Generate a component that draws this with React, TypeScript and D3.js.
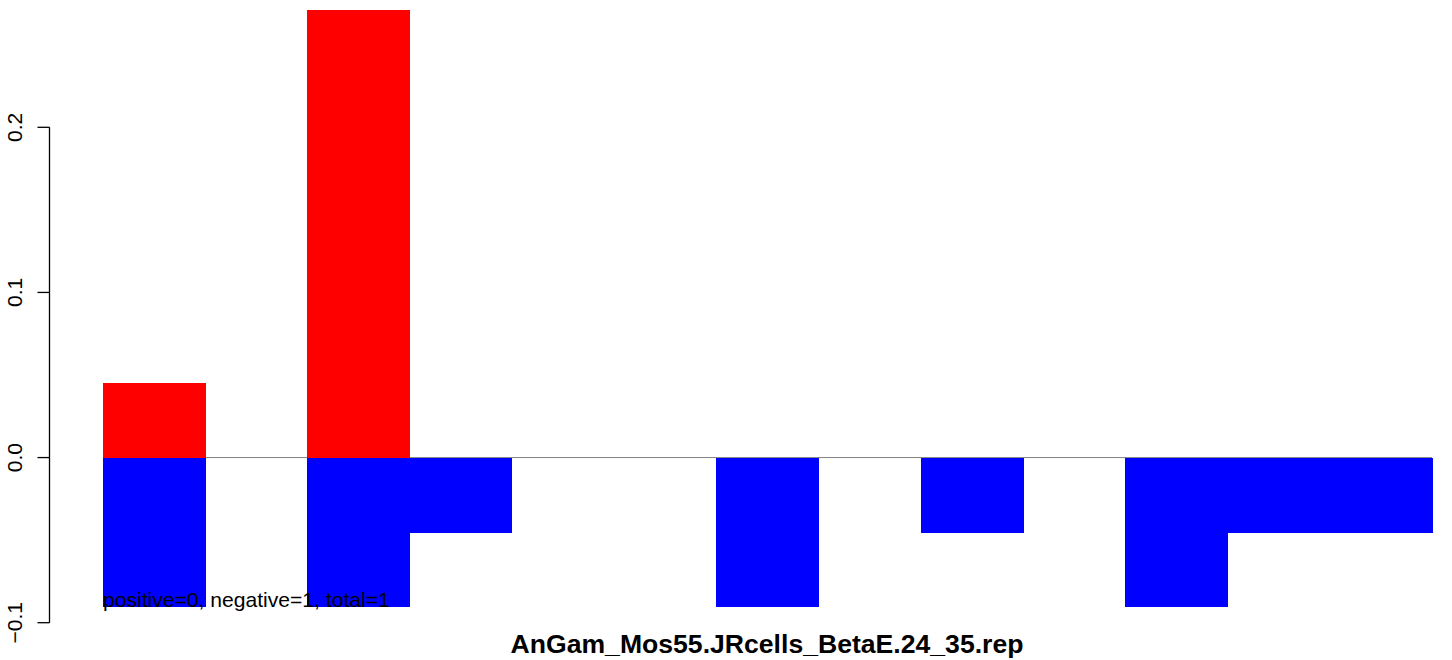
import React from "react";
import * as d3 from "d3";

const categories = ["1", "2", "3", "4", "5", "6", "7", "8", "9", "10", "11", "12", "13"];
const positiveValues = [0.045, 0, 0.271, 0, 0, 0, 0, 0, 0, 0, 0, 0, 0];
const negativeValues = [-0.0905, 0, -0.0905, -0.0455, 0, 0, -0.0905, 0, -0.0455, 0, -0.0905, -0.0455, -0.0455];
const yTicks = [-0.1, 0, 0.1, 0.2];
const title = "AnGam_Mos55.JRcells_BetaE.24_35.rep";
const note = "positive=0, negative=1, total=1";

const W = 1452;
const H = 660;
const FONT = "'Liberation Sans', Arial, Helvetica, sans-serif";

export default function App() {
  const x = d3.scaleBand<string>().domain(categories).range([103, 1432]).padding(0);
  const y = d3.scaleLinear().domain([-0.1, 0.2]).range([622.7, 127.3]);
  const fmt = d3.format(".1f");
  const axisX = 49.5;

  return (
    <svg
      width={W}
      height={H}
      style={{ position: "absolute", left: 0, top: 0, background: "#fff" }}
      fontFamily={FONT}
    >
      <line x1={x.range()[0]} x2={x.range()[1]} y1={y(0)} y2={y(0)} stroke="#808080" strokeWidth={1} />
      <g shapeRendering="crispEdges">
        {categories.map((c, i) =>
          positiveValues[i] > 0 ? (
            <rect
              key={"p" + c}
              x={x(c)}
              width={x.bandwidth() + 0.5}
              y={y(positiveValues[i])}
              height={y(0) - y(positiveValues[i])}
              fill="#ff0000"
            />
          ) : null
        )}
        {categories.map((c, i) =>
          negativeValues[i] < 0 ? (
            <rect
              key={"n" + c}
              x={x(c)}
              width={x.bandwidth() + 0.5}
              y={y(0)}
              height={y(negativeValues[i]) - y(0)}
              fill="#0000ff"
            />
          ) : null
        )}
      </g>
      <line
        x1={axisX}
        x2={axisX}
        y1={y(yTicks[0])}
        y2={y(yTicks[yTicks.length - 1])}
        stroke="#000"
        strokeWidth={1.3}
      />
      {yTicks.map((t) => (
        <g key={t}>
          <line x1={axisX - 12} x2={axisX} y1={y(t)} y2={y(t)} stroke="#000" strokeWidth={1.3} />
          <text
            transform={`translate(22,${y(t)}) rotate(-90)`}
            textAnchor="middle"
            fontSize={21}
            fill="#000"
          >
            {fmt(t)}
          </text>
        </g>
      ))}
      <text x={103} y={606.5} fontSize={21.1} fill="#000">
        {note}
      </text>
      <text x={767} y={653} textAnchor="middle" fontSize={26.6} fontWeight="bold" fill="#000">
        {title}
      </text>
    </svg>
  );
}
